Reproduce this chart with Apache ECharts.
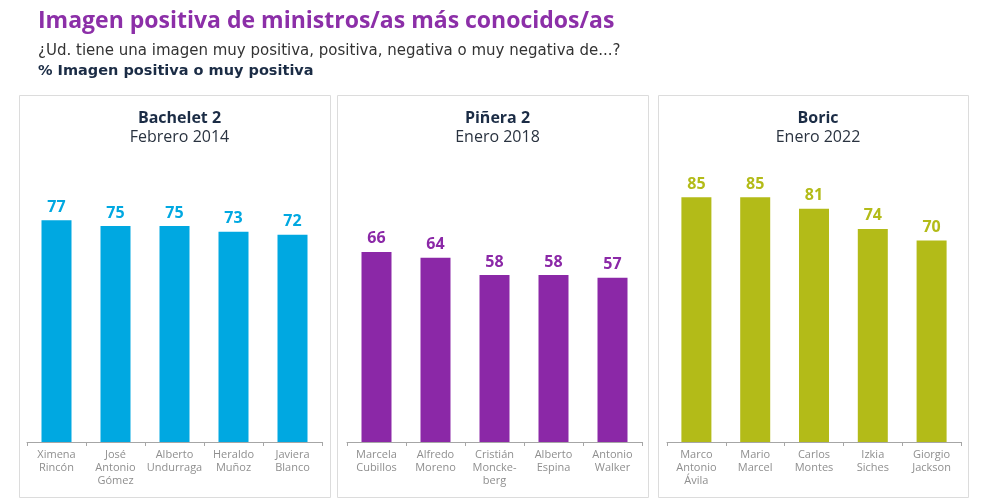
<!DOCTYPE html>
<html>
<head>
<meta charset="utf-8">
<script src="https://cdn.jsdelivr.net/npm/echarts@6/dist/echarts.min.js"></script>
<style>
html,body{margin:0;padding:0;background:#fff;}
#c{width:988px;height:499px;}
</style>
</head>
<body>
<div id="c"></div>
<script>
const panelTitles = ['Bachelet 2', 'Piñera 2', 'Boric'];
const panelDates = ['Febrero 2014', 'Enero 2018', 'Enero 2022'];
const catsBachelet = ['Ximena\nRincón', 'José\nAntonio\nGómez', 'Alberto\nUndurraga', 'Heraldo\nMuñoz', 'Javiera\nBlanco'];
const valsBachelet = [77, 75, 75, 73, 72];
const catsPinera = ['Marcela\nCubillos', 'Alfredo\nMoreno', 'Cristián\nMoncke-\nberg', 'Alberto\nEspina', 'Antonio\nWalker'];
const valsPinera = [66, 64, 58, 58, 57];
const catsBoric = ['Marco\nAntonio\nÁvila', 'Mario\nMarcel', 'Carlos\nMontes', 'Izkia\nSiches', 'Giorgio\nJackson'];
const valsBoric = [85, 85, 81, 74, 70];

const colors = ['#00a8e1', '#8b28a7', '#b3bb18'];
const cats = [catsBachelet, catsPinera, catsBoric];
const vals = [valsBachelet, valsPinera, valsBoric];

const FONT = '"Open Sans", "Noto Sans", sans-serif';
const WIDE = '"DejaVu Sans", sans-serif';
const gridLefts = [27, 347, 667];
const gridWidths = [295, 295, 294];
const panels = [[19, 95, 311, 402], [337, 95, 311, 402], [658, 95, 310, 402]];

const chart = echarts.init(document.getElementById('c'), null, {renderer: 'canvas'});

const grids = [], xAxes = [], yAxes = [], series = [], titles = [], graphics = [];

titles.push({
  text: 'Imagen positiva de ministros/as más conocidos/as',
  left: 33, top: 5,
  textStyle: {fontFamily: FONT, fontSize: 23, fontWeight: 'bold', color: '#8c2fa8'}
});
graphics.push({
  type: 'text', left: 38, top: 44,
  style: {text: '¿Ud. tiene una imagen muy positiva, positiva, negativa o muy negativa de...?', font: '15px ' + WIDE, fill: '#333'}
});
graphics.push({
  type: 'text', left: 38, top: 64,
  style: {text: '% Imagen positiva o muy positiva', font: 'bold 14.5px ' + WIDE, fill: '#1b2c45'}
});

for (let i = 0; i < 3; i++) {
  const p = panels[i];
  graphics.push({
    type: 'rect', shape: {x: p[0] + 0.5, y: p[1] + 0.5, width: p[2], height: p[3]},
    style: {fill: 'none', stroke: '#dcdcdc', lineWidth: 1}, z: -1
  });
  const cx = p[0] + p[2] / 2;
  titles.push({
    text: panelTitles[i], subtext: panelDates[i],
    left: cx, top: 105, textAlign: 'center', itemGap: 3,
    textStyle: {fontFamily: FONT, fontSize: 16, fontWeight: 'bold', color: '#1b2c45'},
    subtextStyle: {fontFamily: FONT, fontSize: 16, color: '#2a3340'}
  });
  grids.push({left: gridLefts[i], width: gridWidths[i], top: 154, height: 288});
  xAxes.push({
    type: 'category', gridIndex: i, data: cats[i],
    axisLine: {lineStyle: {color: '#a6a6a6'}},
    axisTick: {show: true, length: 4, lineStyle: {color: '#a6a6a6'}},
    axisLabel: {fontFamily: FONT, fontSize: 11, color: '#8f8f8f', lineHeight: 13, margin: 6, interval: 0}
  });
  yAxes.push({
    type: 'value', gridIndex: i, min: 0, max: 100, show: false, splitLine: {show: false}
  });
  series.push({
    type: 'bar', xAxisIndex: i, yAxisIndex: i, data: vals[i], barWidth: 30,
    itemStyle: {color: colors[i]},
    label: {show: true, position: 'top', distance: 5, fontFamily: FONT, fontSize: 16, fontWeight: 'bold', color: colors[i]},
    silent: true
  });
}

chart.setOption({
  animation: false,
  backgroundColor: '#fff',
  title: titles,
  grid: grids,
  xAxis: xAxes,
  yAxis: yAxes,
  series: series,
  graphic: graphics
});
</script>
</body>
</html>
